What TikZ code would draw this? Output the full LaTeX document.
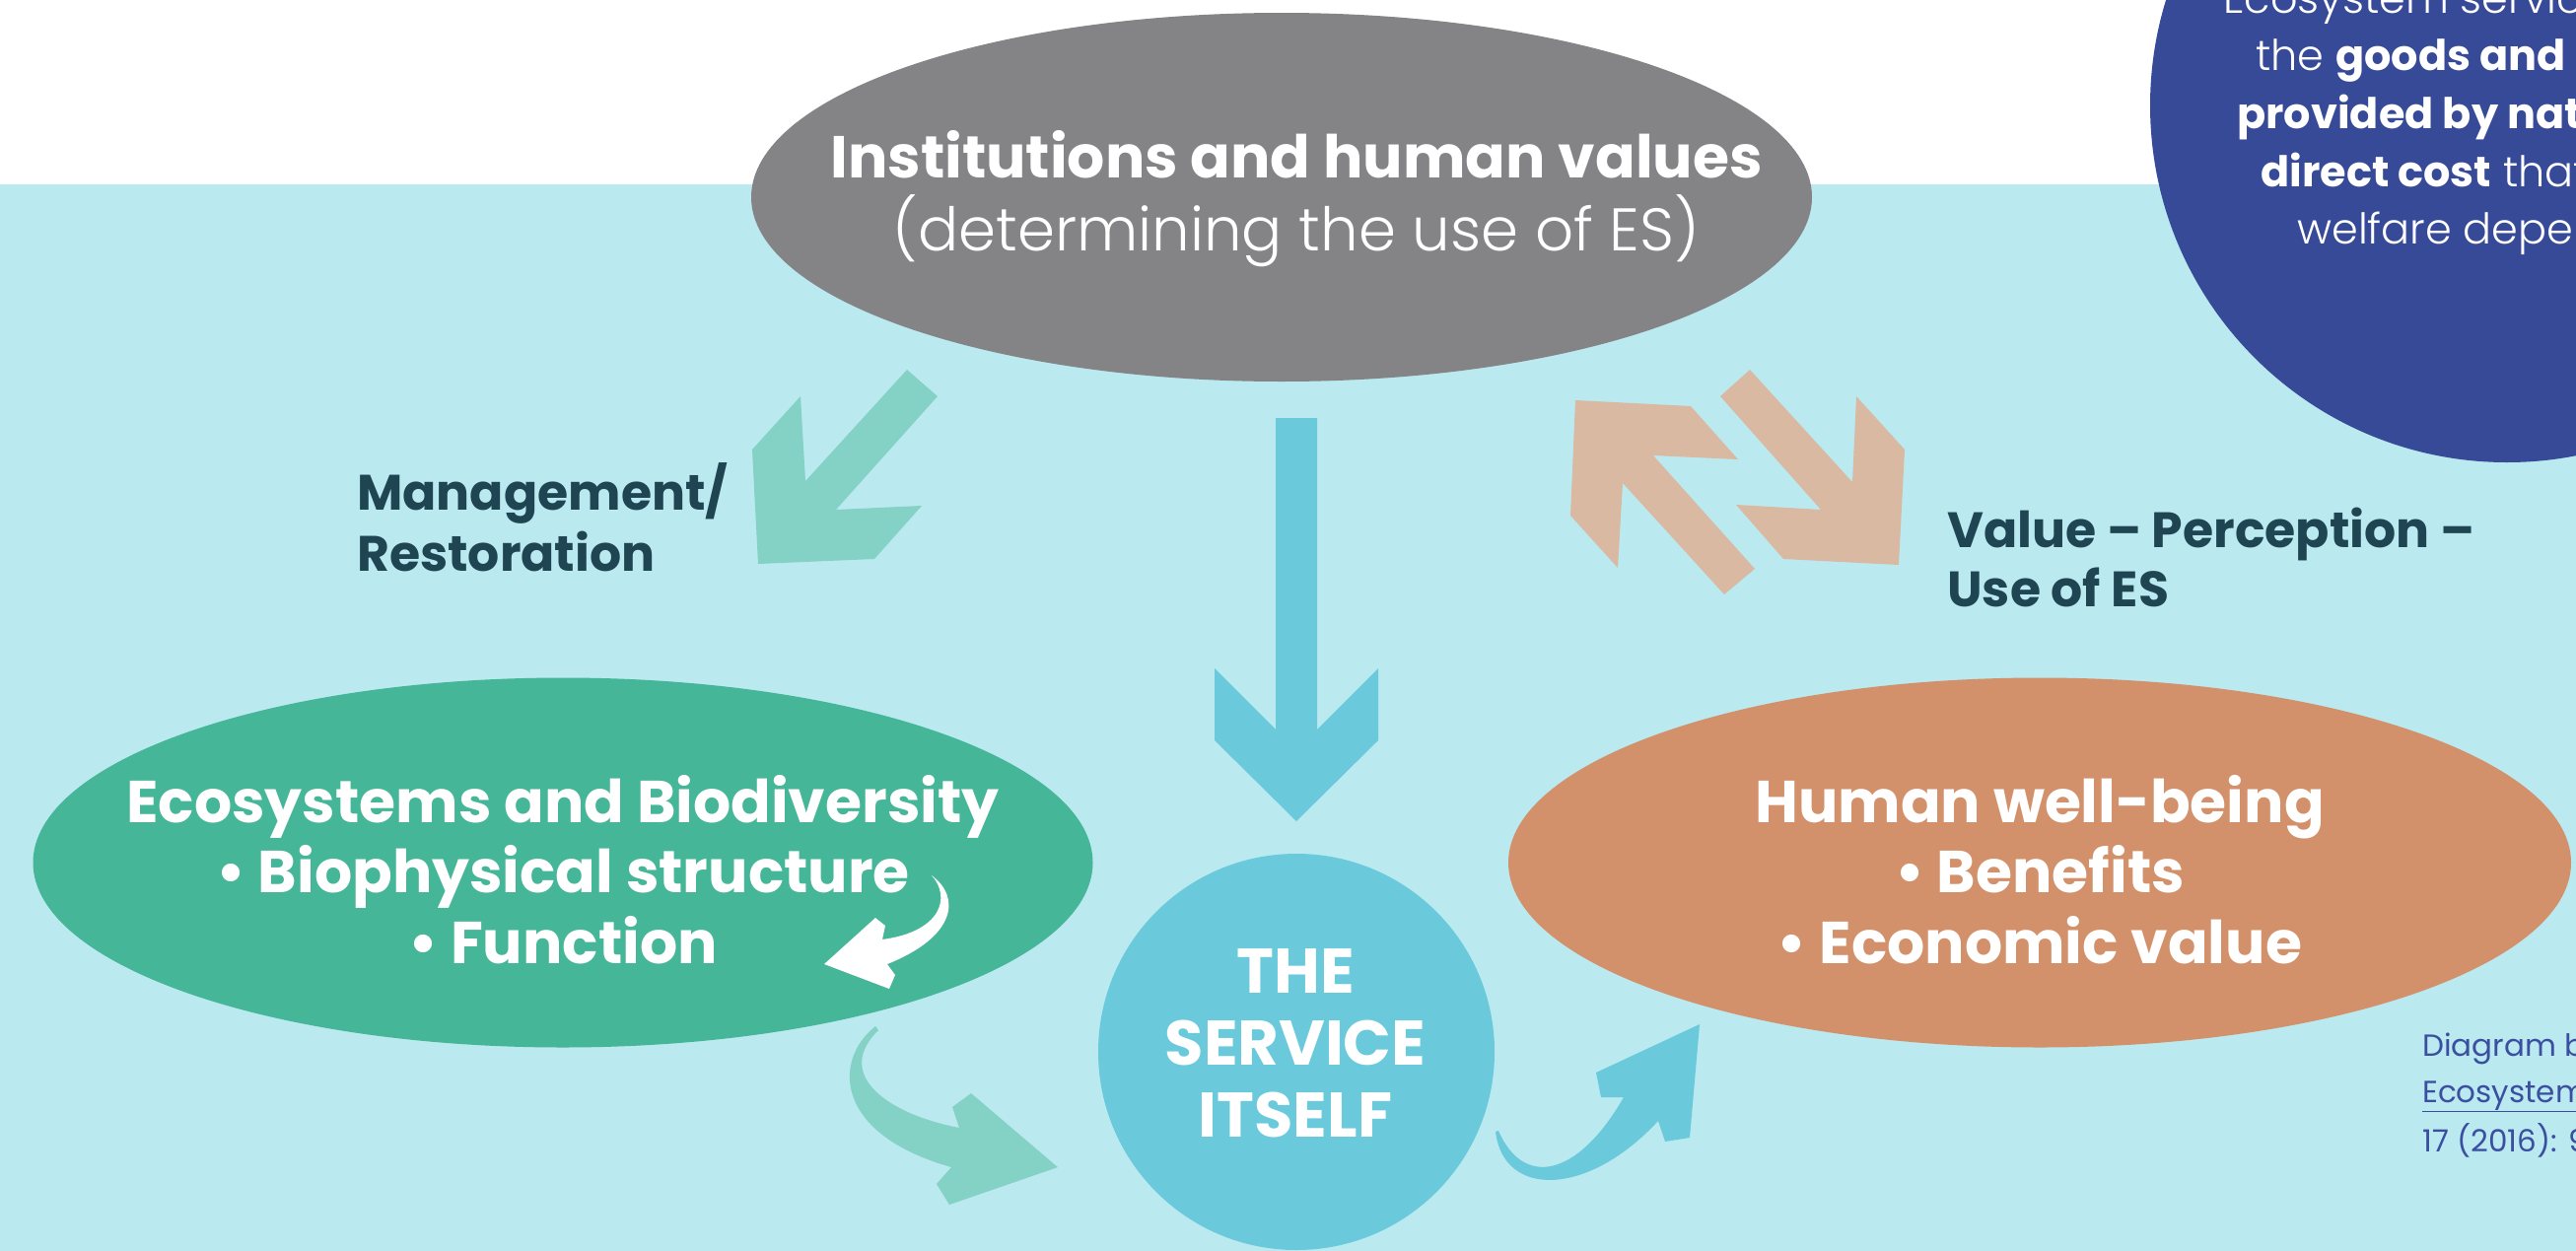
\documentclass[tikz,border=0pt]{standalone}
\usepackage{fontspec}
\setmainfont{Poppins}
\newfontfamily\lightfont{Poppins}[UprightFont=* Light]
\usetikzlibrary{shapes.geometric}
\definecolor{bgblue}{HTML}{BAE9F0}
\definecolor{grayell}{HTML}{848386}
\definecolor{greenell}{HTML}{46B698}
\definecolor{orangeell}{HTML}{D3916B}
\definecolor{servblue}{HTML}{6ACADB}
\definecolor{tealarrow}{HTML}{84D1C6}
\definecolor{tanarrow}{HTML}{DAB9A3}
\definecolor{darkblue}{HTML}{364A98}
\definecolor{darktext}{HTML}{1F4552}
\definecolor{citeblue}{HTML}{3B4FA0}
\tikzset{
  ell/.style={ellipse, inner sep=0pt, draw=none},
  bigtext/.style={text=white, font=\fontsize{60}{66}\selectfont\bfseries, anchor=base, inner sep=0pt},
  servtext/.style={text=white, font=\fontsize{64}{70}\selectfont\bfseries, anchor=base, inner sep=0pt},
  labeltext/.style={text=darktext, font=\fontsize{50.5}{56}\selectfont\bfseries, anchor=base west, inner sep=0pt},
  circtext/.style={text=white, font=\fontsize{43}{48}\selectfont, anchor=base west, inner sep=0pt},
  citetext/.style={text=citeblue, font=\fontsize{31}{36}\selectfont, anchor=base west, inner sep=0pt},
}
\begin{document}
\begin{tikzpicture}[x=1pt,y=-1pt]
\useasboundingbox (0,0) rectangle (2613,1269);
\clip (0,0) rectangle (2613,1269);
\fill[white] (0,0) rectangle (2613,187);
\fill[bgblue] (0,187) rectangle (2613,1269);

% ellipses and circles
\node[ell, fill=grayell, minimum width=1076pt, minimum height=374pt] (inst) at (1300,200) {};
\node[ell, fill=greenell, minimum width=1075pt, minimum height=375pt] (eco) at (571,875) {};
\node[ell, fill=orangeell, minimum width=1078pt, minimum height=375pt] (hwb) at (2069,875) {};
\node[circle, inner sep=0pt, fill=servblue, minimum size=402pt] (serv) at (1315,1067) {};
\node[circle, inner sep=0pt, fill=darkblue, minimum size=724pt] (def) at (2543,107) {};

% block arrows
\fill[tealarrow] (920,375) -- (951,402) -- (848,517) -- (935,513) -- (887,567) -- (769,572) -- (763,456) -- (812,402) -- (817,488) -- cycle;
\fill[tanarrow] (1598,406) -- (1715,412) -- (1763,466) -- (1677,462) -- (1780,577) -- (1749,603) -- (1646,490) -- (1641,576) -- (1593,523) -- cycle;
\fill[tanarrow] (1775,375) -- (1745,402) -- (1847,517) -- (1761,512) -- (1809,567) -- (1926,573) -- (1932,456) -- (1883,402) -- (1879,489) -- cycle;
\fill[servblue] (1294,424) -- (1336,424) -- (1336,740) -- (1398,678) -- (1398,751) -- (1315,833) -- (1232,751) -- (1232,678) -- (1294,740) -- cycle;

% curved arrows
\fill[white] (945,888) .. controls (975,910) and (970,950) .. (900,978) -- (908,989) -- (902,1003) -- (836,978) -- (888,931) -- (898,939) -- (895,953) .. controls (955,945) and (965,910) .. (945,888) -- cycle;
\fill[tealarrow] (888,1041) .. controls (845,1075) and (845,1150) .. (965,1184) -- (950,1201) -- (963,1222) -- (1073,1184) -- (985,1109) -- (966,1123) -- (973,1144) .. controls (900,1130) and (845,1090) .. (891,1045) -- cycle;
\fill[servblue] (1517,1148) .. controls (1525,1215) and (1610,1215) .. (1682,1137) -- (1689,1158) -- (1714,1154) -- (1724,1039) -- (1619,1088) -- (1624,1113) -- (1647,1113) .. controls (1600,1195) and (1545,1205) .. (1520,1147) -- cycle;

% texts
\node[bigtext] (inst1) at (1315,180) {Institutions and human values};
\node[bigtext, font=\fontsize{61}{67}\lightfont] (inst2) at (1315,254) {(determining the use of ES)};

\node[bigtext] (eco1) at (571,834) {Ecosystems and Biodiversity};
\node[bigtext] (eco2) at (571,905) {• Biophysical structure};
\node[bigtext] (eco3) at (571,977) {• Function};

\node[bigtext] (hwb1) at (2069,834) {Human well-being};
\node[bigtext] (hwb2) at (2069,905) {• Benefits};
\node[bigtext] (hwb3) at (2069,977) {• Economic value};

\node[servtext] (serv1) at (1314,1007) {THE};
\node[servtext] (serv2) at (1314,1080) {SERVICE};
\node[servtext] (serv3) at (1314,1153) {ITSELF};

\node[labeltext] (mgmt1) at (362,517) {Management/};
\node[labeltext] (mgmt2) at (362,579) {Restoration};

\node[labeltext] (val1) at (1975,555) {Value – Perception –};
\node[labeltext] (val2) at (1975,615) {Use of ES};

\node[circtext] (c1) at (2255,13) {{\lightfont Ecosystem services are}};
\node[circtext] (c2) at (2288,71) {{\lightfont the }\textbf{goods and services}};
\node[circtext] (c3) at (2269,130) {\textbf{provided by nature at no}};
\node[circtext] (c4) at (2293,189) {\textbf{direct cost}{\lightfont\ that human}};
\node[circtext] (c5) at (2330,247) {{\lightfont welfare depends on.}};

\node[citetext] (cite1) at (2457,1071) {Diagram based on};
\node[citetext] (cite2) at (2457,1118) {\underline{Ecosystem Services}};
\node[citetext] (cite3) at (2457,1168) {17 (2016): 96–104};
\end{tikzpicture}
\end{document}
